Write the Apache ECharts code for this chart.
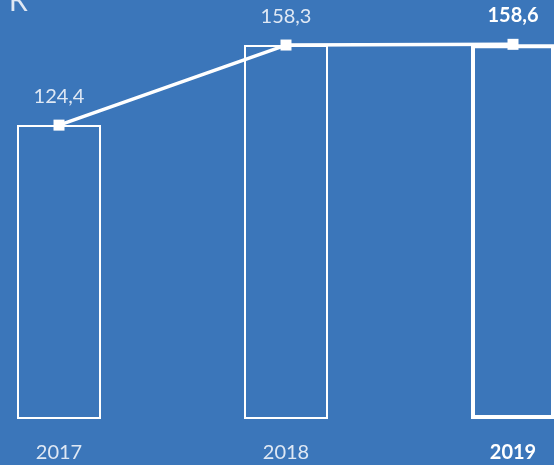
<!DOCTYPE html>
<html>
<head>
<meta charset="utf-8">
<script src="https://cdn.jsdelivr.net/npm/echarts@6/dist/echarts.min.js"></script>
<style>
html,body{margin:0;padding:0;background:#3b76ba;overflow:hidden;}
#c{width:554px;height:465px;}
</style>
</head>
<body>
<div id="c"></div>
<script>
const categories = ['2017', '2018', '2019'];
const values = [124.4, 158.3, 158.6];
const highlightIndex = 2;

const fmt = v => v.toFixed(1).replace('.', ',');
const textColor = '#dfe8f4';
const font = 'Lato';

const chart = echarts.init(document.getElementById('c'));
chart.setOption({
  backgroundColor: '#3b76ba',
  animation: false,
  title: {
    text: 'К', left: 4, top: -17,
    textStyle: { fontSize: 28, fontWeight: 'normal', color: textColor, fontFamily: font }
  },
  grid: { left: -54.5, width: 681, top: 17.4, height: 401.6, containLabel: false, outerBoundsMode: 'none' },
  xAxis: {
    type: 'category',
    data: categories.map((c, i) => i === highlightIndex
      ? { value: c, textStyle: { fontWeight: 'bold', color: '#ffffff' } }
      : c),
    axisLine: { show: false }, axisTick: { show: false }, splitLine: { show: false },
    axisLabel: { color: textColor, fontSize: 20, fontFamily: font, margin: 24 }
  },
  yAxis: { type: 'value', min: 0, max: 170, show: false, splitLine: { show: false } },
  series: [
    {
      type: 'bar', barWidth: 84, z: 1,
      data: values.map((v, i) => ({
        value: v,
        itemStyle: { color: 'rgba(0,0,0,0)', borderColor: '#ffffff', borderWidth: i === highlightIndex ? 4 : 2 }
      }))
    },
    {
      type: 'line', z: 5,
      symbol: 'rect', symbolSize: 11,
      itemStyle: { color: '#ffffff' },
      lineStyle: { color: '#ffffff', width: 3.5 },
      label: {
        show: true, position: 'top', distance: 13,
        color: textColor, fontSize: 20, fontFamily: font,
        formatter: p => fmt(p.value)
      },
      data: values.map((v, i) => i === highlightIndex
        ? { value: v, label: { fontWeight: 'bold', color: '#ffffff' } }
        : v)
    }
  ]
});
</script>
</body>
</html>
